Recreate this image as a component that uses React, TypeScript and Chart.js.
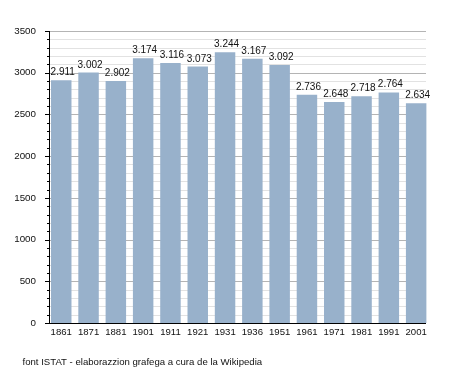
import { useEffect, useRef } from 'react';
import { Chart, registerables } from 'chart.js';

Chart.register(...registerables);

const years = ['1861', '1871', '1881', '1901', '1911', '1921', '1931', '1936', '1951', '1961', '1971', '1981', '1991', '2001'];
const population = [2911, 3002, 2902, 3174, 3116, 3073, 3244, 3167, 3092, 2736, 2648, 2718, 2764, 2634];
const yMin = 0;
const yMax = 3500;
const yMajorStep = 500;
const yMinorStep = 100;
const sourceNote = 'font ISTAT - elaborazzion grafega a cura de la Wikipedia';

const FONT = '"Liberation Sans", Arial, sans-serif';
const BAR_COLOR = '#98b1cb';
const MAJOR_GRID = '#b4b4b4';
const MINOR_GRID = '#e2e2e2';
const TEXT_COLOR = '#111111';

function formatIt(v: number): string {
  const th = Math.floor(v / 1000);
  const rest = v % 1000;
  return th > 0 ? th + '.' + String(rest).padStart(3, '0') : String(rest);
}

const decorPlugin = {
  id: 'decor',
  beforeDatasetsDraw(chart: any) {
    const ctx = chart.ctx;
    const meta = chart.getDatasetMeta(0);
    const first = meta.data[0];
    const last = meta.data[meta.data.length - 1];
    const left = Math.round(first.x - first.width / 2) - 1;
    const right = Math.round(last.x + last.width / 2);
    const y = chart.scales.y;
    ctx.save();
    ctx.lineWidth = 1;
    for (let v = yMin + yMinorStep; v <= yMax; v += yMinorStep) {
      const py = Math.round(y.getPixelForValue(v)) + 0.5;
      ctx.strokeStyle = v % yMajorStep === 0 ? MAJOR_GRID : MINOR_GRID;
      ctx.beginPath();
      ctx.moveTo(left, py);
      ctx.lineTo(right, py);
      ctx.stroke();
    }
    ctx.restore();
  },
  afterDatasetsDraw(chart: any) {
    const ctx = chart.ctx;
    const meta = chart.getDatasetMeta(0);
    const first = meta.data[0];
    const last = meta.data[meta.data.length - 1];
    const left = Math.round(first.x - first.width / 2) - 1;
    const right = Math.round(last.x + last.width / 2);
    const y = chart.scales.y;
    const top = Math.round(y.getPixelForValue(yMax));
    const bottom = Math.round(y.getPixelForValue(yMin));
    ctx.save();
    ctx.strokeStyle = '#000';
    ctx.lineWidth = 1;
    // y axis line
    ctx.beginPath();
    ctx.moveTo(left - 0.5, top);
    ctx.lineTo(left - 0.5, bottom + 1);
    ctx.stroke();
    // x axis line
    ctx.beginPath();
    ctx.moveTo(left - 1, bottom + 0.5);
    ctx.lineTo(right, bottom + 0.5);
    ctx.stroke();
    // tick marks
    for (let v = yMin; v <= yMax; v += yMinorStep) {
      const py = Math.round(y.getPixelForValue(v)) + 0.5;
      const len = v % yMajorStep === 0 ? 5 : 3;
      ctx.beginPath();
      ctx.moveTo(left - len, py);
      ctx.lineTo(left, py);
      ctx.stroke();
    }
    // value labels
    ctx.fillStyle = TEXT_COLOR;
    ctx.font = '10px ' + FONT;
    ctx.textAlign = 'center';
    ctx.textBaseline = 'alphabetic';
    meta.data.forEach((bar: any, i: number) => {
      ctx.fillText(formatIt(population[i]), bar.x + 1.5, bar.y - 5);
    });
    ctx.restore();
  },
  afterDraw(chart: any) {
    const ctx = chart.ctx;
    ctx.save();
    ctx.fillStyle = TEXT_COLOR;
    ctx.font = '9.6px ' + FONT;
    ctx.textAlign = 'left';
    ctx.textBaseline = 'alphabetic';
    ctx.fillText(sourceNote, 22.5, 365);
    ctx.restore();
  },
};

export default function App() {
  const canvasRef = useRef<HTMLCanvasElement | null>(null);

  useEffect(() => {
    document.body.style.margin = '0';
    const canvas = canvasRef.current;
    if (!canvas) return;
    const chart = new Chart(canvas, {
      type: 'bar',
      data: {
        labels: years,
        datasets: [
          {
            data: population,
            backgroundColor: BAR_COLOR,
            borderWidth: 0,
            barPercentage: 0.75,
            categoryPercentage: 1,
          },
        ],
      },
      options: {
        responsive: false,
        animation: false,
        devicePixelRatio: 1,
        layout: { padding: { top: 31, right: 25.2, left: 0, bottom: 0 } },
        plugins: {
          legend: { display: false },
          tooltip: { enabled: false },
          title: { display: false },
        },
        scales: {
          x: {
            offset: true,
            grid: { display: false, drawTicks: false },
            border: { display: false },
            ticks: {
              font: { family: FONT, size: 9.6 },
              color: TEXT_COLOR,
              padding: 4,
              maxRotation: 0,
              autoSkip: false,
            },
            afterFit: (s: any) => {
              s.height = 50;
            },
          },
          y: {
            min: yMin,
            max: yMax,
            grid: { display: false, drawTicks: false },
            border: { display: false },
            ticks: {
              stepSize: yMinorStep,
              autoSkip: false,
              padding: 11.6,
              font: { family: FONT, size: 9.8 },
              color: TEXT_COLOR,
              callback: (v: any) => (Number(v) % yMajorStep === 0 ? String(v) : ''),
            },
            afterFit: (s: any) => {
              s.width = 47.6;
            },
          },
        },
      },
      plugins: [decorPlugin],
    } as any);
    return () => chart.destroy();
  }, []);

  return (
    <div style={{ width: 455, height: 373, background: '#fff' }}>
      <canvas ref={canvasRef} width={455} height={373} style={{ display: 'block', width: 455, height: 373 }} />
    </div>
  );
}
